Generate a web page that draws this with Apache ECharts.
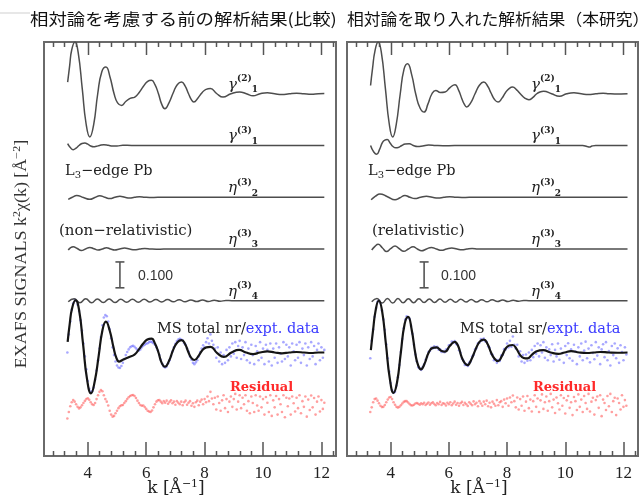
<!DOCTYPE html>
<html><head><meta charset="utf-8">
<script src="https://cdn.jsdelivr.net/npm/echarts@6/dist/echarts.min.js"></script>
<style>html,body{margin:0;padding:0;background:#fff;}#c{width:644px;height:501px;}</style>
</head><body><div id="c"></div>
<script>
// ---------------- DATA ----------------
const panelTitles = ['相対論を考慮する前の解析結果(比較)', '相対論を取り入れた解析結果（本研究）'];
const majorTicks = [4, 6, 8, 10, 12];
const minorTicks = [2.8,3.2,3.6,4.4,4.8,5.2,5.6,6.4,6.8,7.2,7.6,8.4,8.8,9.2,9.6,10.4,10.8,11.2,11.6,12.4];
const xRange = [2.5, 12.5];
const yRange = [0, 1.6];

// smooth theory curves, [k, signal]
const nrGamma21 = [[3.31,0.045],[3.38,0.11],[3.45,0.17],[3.56,0.2],[3.67,0.16],[3.81,0.02],[3.94,-0.115],[4.07,-0.167],[4.2,-0.12],[4.34,0.0],[4.48,0.085],[4.62,0.103],[4.76,0.065],[4.9,0.0],[5.02,-0.035],[5.16,-0.045],[5.3,-0.03],[5.45,-0.018],[5.61,-0.013],[5.76,0.005],[5.9,0.028],[6.04,0.047],[6.18,0.052],[6.3,0.035],[6.42,0.0],[6.53,-0.04],[6.64,-0.058],[6.78,-0.035],[6.93,0.005],[7.07,0.036],[7.21,0.045],[7.33,0.03],[7.45,0.0],[7.54,-0.022],[7.63,-0.032],[7.78,-0.015],[7.92,0.005],[8.05,0.017],[8.2,0.02],[8.42,0.0],[8.63,-0.013],[8.9,0.0],[9.2,0.007],[9.43,0.0],[9.66,-0.008],[9.9,0.0],[10.15,0.004],[10.4,0.0],[10.65,-0.003],[10.9,0.0],[11.15,0.002],[11.4,0.0],[11.65,-0.002],[11.9,0.0],[12.1,0.001]];
const nrGamma31 = [[3.31,0.007],[3.4,-0.008],[3.5,-0.016],[3.6,-0.01],[3.7,0.0],[3.8,0.008],[3.9,0.01],[4.0,0.005],[4.1,-0.002],[4.2,-0.005],[4.3,-0.003],[4.4,0.0],[4.55,0.003],[4.7,0.001],[4.85,-0.002],[5.0,-0.002],[5.2,0.001],[5.5,0.0],[12.1,0.0]];
const nrEta32 = [[3.33,-0.008],[3.47,0.0],[3.62,0.007],[3.85,-0.001],[4.07,-0.008],[4.24,-0.001],[4.41,0.006],[4.58,0.0],[4.76,-0.005],[4.93,0.0],[5.1,0.004],[5.27,0.0],[5.43,-0.003],[5.6,0.0],[5.77,0.002],[5.95,0.0],[6.12,-0.001],[6.4,0.0],[12.1,0.0]];
const nrEta33 = [[3.33,-0.004],[3.5,0.009],[3.64,0.002],[3.78,-0.006],[3.92,0.0],[4.07,0.006],[4.21,0.001],[4.35,-0.004],[4.5,0.0],[4.64,0.005],[4.78,0.0],[4.92,-0.004],[5.09,0.0],[5.26,0.004],[5.43,0.0],[5.6,-0.003],[5.78,0.0],[5.95,0.002],[6.15,0.0],[6.35,-0.001],[6.6,0.0],[12.1,0.0]];
const nrEta34 = [[3.33,-0.004],[3.53,0.008],[3.73,-0.008],[3.93,0.008],[4.13,-0.008],[4.33,0.007],[4.53,-0.007],[4.73,0.007],[4.93,-0.007],[5.13,0.006],[5.33,-0.006],[5.53,0.006],[5.73,-0.006],[5.93,0.006],[6.13,-0.005],[6.33,0.005],[6.53,-0.005],[6.73,0.005],[6.93,-0.004],[7.13,0.004],[7.33,-0.004],[7.53,0.003],[7.73,-0.003],[7.93,0.003],[8.13,-0.003],[8.33,0.002],[8.53,-0.002],[8.73,0.001],[8.93,0.0],[12.1,0.0]];
const nrTotal = [[3.31,0.041],[3.38,0.11],[3.46,0.17],[3.58,0.202],[3.7,0.165],[3.84,0.03],[3.97,-0.1],[4.11,-0.158],[4.24,-0.11],[4.37,-0.015],[4.5,0.085],[4.62,0.119],[4.75,0.085],[4.88,0.02],[4.97,-0.018],[5.07,-0.035],[5.2,-0.028],[5.4,-0.018],[5.6,-0.008],[5.75,0.012],[5.9,0.035],[6.04,0.05],[6.18,0.054],[6.3,0.035],[6.42,0.0],[6.53,-0.04],[6.64,-0.055],[6.78,-0.033],[6.93,0.012],[7.07,0.04],[7.21,0.048],[7.33,0.033],[7.45,0.0],[7.55,-0.022],[7.65,-0.029],[7.8,-0.012],[7.93,0.01],[8.06,0.02],[8.2,0.022],[8.43,-0.002],[8.66,-0.017],[8.92,0.0],[9.18,0.01],[9.42,0.0],[9.66,-0.006],[9.9,0.0],[10.15,0.004],[10.4,0.0],[10.65,-0.003],[10.9,0.0],[11.15,0.002],[11.4,0.0],[11.65,-0.002],[11.9,0.0],[12.1,0.0]];

const srGamma21 = [[3.31,0.032],[3.38,0.1],[3.46,0.165],[3.57,0.2],[3.68,0.16],[3.82,0.02],[3.95,-0.115],[4.07,-0.167],[4.19,-0.12],[4.33,0.0],[4.46,0.095],[4.58,0.116],[4.72,0.075],[4.87,-0.005],[5.01,-0.055],[5.15,-0.071],[5.28,-0.04],[5.42,0.0],[5.55,0.013],[5.71,0.005],[5.87,0.007],[6.04,0.024],[6.21,0.035],[6.33,0.015],[6.45,-0.02],[6.53,-0.04],[6.61,-0.051],[6.75,-0.035],[6.9,0.0],[7.05,0.033],[7.2,0.045],[7.33,0.03],[7.45,0.003],[7.57,-0.022],[7.69,-0.032],[7.82,-0.018],[7.95,0.005],[8.07,0.02],[8.19,0.026],[8.33,0.015],[8.47,-0.002],[8.61,-0.017],[8.75,-0.023],[8.88,-0.015],[9.0,-0.002],[9.13,0.007],[9.26,0.01],[9.53,0.0],[9.8,-0.01],[10.05,0.0],[10.3,0.004],[10.55,0.0],[10.8,-0.003],[11.05,0.0],[11.3,0.002],[11.5,0.0],[11.7,-0.001],[12.14,0.0]];
const srGamma31 = [[3.31,0.0],[3.42,-0.025],[3.52,-0.034],[3.62,-0.015],[3.72,0.012],[3.8,0.021],[3.88,0.023],[3.98,0.01],[4.08,-0.004],[4.18,-0.009],[4.26,-0.008],[4.38,0.0],[4.5,0.006],[4.64,0.007],[4.78,0.0],[4.92,-0.004],[5.1,-0.002],[5.3,0.002],[5.55,0.0],[5.8,-0.001],[6.2,0.0],[10.6,0.0],[10.75,-0.004],[10.83,-0.006],[10.92,-0.002],[11.05,0.0],[12.14,0.0]];
const srEta32 = [[3.33,-0.01],[3.48,0.004],[3.63,0.013],[3.89,0.002],[4.15,-0.01],[4.32,-0.002],[4.49,0.007],[4.66,0.0],[4.83,-0.005],[5.03,0.0],[5.23,0.004],[5.43,0.0],[5.63,-0.003],[5.83,0.0],[6.03,0.002],[6.25,0.0],[6.45,-0.001],[6.7,0.0],[12.14,0.0]];
const srEta33 = [[3.35,-0.004],[3.46,0.01],[3.57,0.018],[3.72,0.004],[3.86,-0.01],[4.0,0.001],[4.15,0.012],[4.3,0.001],[4.45,-0.009],[4.61,0.0],[4.77,0.009],[4.92,0.0],[5.06,-0.007],[5.23,0.0],[5.4,0.006],[5.57,0.0],[5.75,-0.005],[5.92,0.0],[6.1,0.004],[6.28,0.0],[6.45,-0.003],[6.62,0.0],[6.8,0.002],[7.0,0.0],[12.14,0.0]];
const srEta34 = [[3.35,-0.004],[3.53,0.009],[3.71,-0.009],[3.89,0.009],[4.07,-0.009],[4.25,0.009],[4.43,-0.008],[4.61,0.008],[4.79,-0.008],[4.97,0.008],[5.15,-0.007],[5.33,0.007],[5.51,-0.007],[5.69,0.007],[5.87,-0.006],[6.05,0.006],[6.23,-0.006],[6.41,0.006],[6.59,-0.005],[6.77,0.005],[6.95,-0.005],[7.13,0.004],[7.31,-0.004],[7.49,0.004],[7.67,-0.003],[7.85,0.003],[8.03,-0.003],[8.21,0.002],[8.39,-0.002],[8.57,0.001],[8.75,0.0],[12.14,0.0]];
const srTotal = [[3.32,0.009],[3.4,0.09],[3.48,0.16],[3.59,0.2],[3.7,0.165],[3.84,0.03],[3.97,-0.1],[4.1,-0.156],[4.22,-0.115],[4.35,0.0],[4.48,0.11],[4.6,0.138],[4.72,0.09],[4.85,-0.005],[4.94,-0.048],[5.04,-0.065],[5.17,-0.042],[5.3,-0.002],[5.44,0.018],[5.58,0.02],[5.72,0.008],[5.87,0.003],[6.03,0.025],[6.2,0.041],[6.32,0.025],[6.44,-0.018],[6.54,-0.04],[6.63,-0.049],[6.77,-0.028],[6.92,0.012],[7.06,0.042],[7.2,0.05],[7.33,0.033],[7.45,0.0],[7.57,-0.024],[7.69,-0.033],[7.82,-0.014],[7.95,0.015],[8.07,0.027],[8.19,0.029],[8.32,0.015],[8.45,-0.01],[8.57,-0.021],[8.7,-0.023],[8.85,-0.009],[9.0,0.004],[9.12,0.008],[9.24,0.009],[9.5,0.0],[9.76,-0.005],[9.98,0.0],[10.2,0.005],[10.48,0.0],[10.75,-0.002],[10.98,0.0],[11.2,0.002],[11.5,0.0],[11.8,-0.001],[12.14,0.0]];

// measured points (k grid shared)
const kExp = [3.3,3.35,3.4,3.45,3.5,3.55,3.6,3.65,3.7,3.75,3.8,3.85,3.9,3.95,
4,4.05,4.1,4.15,4.2,4.25,4.3,4.35,4.4,4.45,4.5,4.55,4.6,4.65,4.7,4.75,4.8,4.85,4.9,4.95,
5,5.05,5.1,5.15,5.2,5.25,5.3,5.35,5.4,5.45,5.5,5.55,5.6,5.65,5.7,5.75,5.8,5.85,5.9,5.95,
6,6.05,6.1,6.15,6.2,6.25,6.3,6.35,6.4,6.45,6.5,6.55,6.6,6.65,6.7,6.75,6.8,6.85,6.9,6.95,
7,7.05,7.1,7.15,7.2,7.25,7.3,7.35,7.4,7.45,7.5,7.55,7.6,7.65,7.7,7.75,7.8,7.85,7.9,7.95,
8,8.05,8.1,8.15,8.2,8.25,8.3,8.35,8.4,8.45,8.5,8.55,8.6,8.65,8.7,8.75,8.8,8.85,8.9,8.95,
9,9.05,9.1,9.15,9.2,9.25,9.3,9.35,9.4,9.45,9.5,9.55,9.6,9.65,9.7,9.75,9.8,9.85,9.9,9.95,
10,10.05,10.1,10.15,10.2,10.25,10.3,10.35,10.4,10.45,10.5,10.55,10.6,10.65,10.7,10.75,10.8,10.85,10.9,10.95,
11,11.05,11.1,11.15,11.2,11.25,11.3,11.35,11.4,11.45,11.5,11.55,11.6,11.65,11.7,11.75,11.8,11.85,11.9,11.95,
12,12.05,12.1];
const nrExpt = [0.0,0.07,0.12,0.165,0.19,0.205,0.2,0.185,0.16,0.125,
0.085,0.035,-0.015,-0.065,-0.11,-0.14,-0.152,-0.15,-0.135,-0.105,
-0.07,-0.03,0.015,0.06,0.105,0.135,0.145,0.14,0.12,0.09,
0.055,0.02,-0.01,-0.035,-0.05,-0.058,-0.06,-0.052,-0.04,-0.025,
-0.01,0.002,0.012,0.02,0.024,0.026,0.022,0.016,0.01,0.008,
0.012,0.02,0.026,0.03,0.034,0.036,0.04,0.042,0.04,0.036,
0.03,0.02,0.008,-0.01,-0.028,-0.044,-0.054,-0.058,-0.054,-0.042,
-0.03,-0.014,0.004,0.02,0.034,0.044,0.05,0.053,0.05,0.046,
0.036,0.03,0.015,0.004,-0.015,-0.028,-0.04,-0.045,-0.038,-0.03,
-0.015,0.002,0.015,0.028,0.02,0.04,0.055,0.035,0.07,0.045,
0.03,0.015,-0.02,0.02,-0.035,0.0,-0.045,-0.01,-0.04,0.01,
-0.03,0.02,-0.015,0.035,-0.005,0.04,-0.02,0.025,0.045,-0.025,
0.02,-0.01,0.04,-0.03,0.015,-0.04,0.03,-0.01,-0.045,0.025,
0.005,-0.03,0.04,-0.02,0.015,-0.045,0.03,0.01,-0.035,0.035,
-0.05,0.015,-0.02,0.035,-0.04,0.02,-0.005,-0.035,0.04,-0.025,
0.03,-0.015,0.02,-0.05,0.035,0.005,-0.03,0.03,-0.02,0.04,
-0.04,0.015,-0.01,0.035,-0.05,0.02,-0.025,0.04,-0.015,0.025,
-0.045,0.01,0.035,-0.03,0.02,-0.02,0.01];
const nrResidual = [-0.055,-0.03,-0.008,0.008,0.016,0.01,0.0,-0.01,-0.016,-0.012,
-0.004,0.005,0.013,0.02,0.023,0.017,0.008,0.0,-0.003,0.005,
0.02,0.035,0.048,0.055,0.05,0.035,0.02,0.01,-0.005,-0.025,
-0.04,-0.048,-0.045,-0.035,-0.025,-0.015,-0.008,-0.004,-0.003,0.005,
0.012,0.02,0.027,0.032,0.035,0.036,0.032,0.024,0.014,0.005,
-0.003,-0.006,-0.005,-0.011,-0.018,-0.025,-0.028,-0.03,-0.024,-0.012,
0.0,0.01,0.015,0.016,0.01,0.004,0.012,0.006,0.014,0.002,
0.009,0.015,0.004,0.01,-0.002,0.012,0.006,0.0,0.01,-0.004,
0.008,0.014,-0.002,0.006,0.012,-0.006,0.004,-0.01,0.008,0.014,
-0.004,0.01,0.018,0.0,0.02,0.008,0.03,0.012,0.048,0.022,
0.0,0.025,-0.02,0.03,0.005,-0.025,0.015,0.035,-0.015,0.02,
-0.03,0.01,0.03,-0.01,0.02,0.04,-0.02,0.01,0.035,-0.015,
0.025,0.0,0.035,-0.025,0.012,-0.035,0.03,0.005,-0.03,0.035,
-0.005,-0.025,0.03,-0.012,0.02,-0.04,0.028,0.006,-0.03,0.035,
-0.045,0.015,-0.012,0.032,-0.04,0.02,0.0,-0.03,0.035,-0.05,
0.025,-0.008,0.022,-0.04,0.03,0.004,-0.028,0.025,-0.015,0.035,
-0.035,0.012,-0.01,0.03,-0.048,0.018,-0.022,0.034,-0.012,0.024,
-0.04,0.01,0.03,-0.028,0.016,-0.018,0.006];
const srExpt = [-0.022,0.045,0.09,0.138,0.172,0.196,0.202,0.19,0.162,0.128,
0.088,0.032,-0.022,-0.074,-0.118,-0.146,-0.156,-0.152,-0.128,-0.096,
-0.048,0.002,0.052,0.094,0.127,0.14,0.136,0.13,0.102,0.072,
0.03,-0.008,-0.034,-0.057,-0.062,-0.067,-0.056,-0.046,-0.028,-0.017,
0.002,0.006,0.018,0.016,0.024,0.018,0.022,0.011,0.012,0.002,
0.006,0.001,0.011,0.012,0.028,0.029,0.042,0.038,0.044,0.033,
0.029,0.009,-0.001,-0.024,-0.031,-0.048,-0.046,-0.052,-0.039,-0.035,
-0.016,-0.01,0.012,0.017,0.036,0.038,0.052,0.047,0.054,0.043,
0.041,0.023,0.018,-0.005,-0.009,-0.03,-0.027,-0.04,-0.029,-0.033,
-0.012,-0.01,0.013,0.012,0.035,0.02,0.045,0.022,0.062,0.03,
0.015,0.03,-0.015,0.005,-0.035,-0.01,-0.04,-0.008,-0.032,0.0,
-0.03,0.01,-0.018,0.025,-0.005,0.035,-0.015,0.028,0.0,0.04,
-0.02,0.02,-0.03,0.012,-0.01,0.032,-0.035,0.01,-0.015,0.035,
-0.028,0.015,-0.002,-0.04,0.025,-0.01,0.036,-0.022,0.012,-0.032,
0.03,0.004,-0.045,0.02,-0.015,0.035,-0.03,0.008,0.042,-0.022,
0.015,-0.038,0.028,-0.002,-0.026,0.04,-0.012,0.02,-0.045,0.012,
0.032,-0.018,0.04,-0.03,0.006,-0.05,0.025,-0.01,0.035,-0.022,
0.016,-0.04,0.028,0.002,-0.03,0.02,-0.008];
const srResidual = [-0.03,-0.012,0.008,0.02,0.022,0.014,0.004,-0.006,-0.011,-0.01,
-0.003,0.008,0.018,0.026,0.028,0.02,0.008,-0.002,-0.01,-0.013,
-0.01,-0.004,0.003,0.009,0.012,0.012,0.007,0.001,-0.004,-0.005,
-0.002,0.003,0.005,0.002,-0.002,0.004,0.0,0.006,-0.003,0.002,
0.007,-0.002,0.004,0.008,0.001,-0.004,0.005,0.0,0.009,-0.003,
0.004,0.002,-0.005,0.006,0.0,0.008,-0.004,0.003,0.01,-0.002,
0.005,-0.006,0.004,0.009,-0.003,0.006,0.0,-0.007,0.008,0.002,
-0.004,0.011,0.0,0.006,-0.008,0.012,0.003,-0.006,0.01,0.0,
0.014,-0.008,0.006,-0.012,0.01,0.002,-0.006,0.016,-0.004,0.008,
0.012,-0.01,0.018,0.004,0.022,-0.006,0.026,0.008,0.034,0.012,
-0.012,0.026,-0.02,0.02,-0.006,0.03,-0.025,0.01,0.032,-0.015,
0.018,-0.028,0.012,0.035,-0.01,0.022,-0.03,0.015,0.038,-0.018,
0.008,0.03,-0.025,0.012,0.04,-0.012,0.018,-0.034,0.026,0.004,
-0.02,0.035,-0.006,0.024,-0.036,0.015,0.032,-0.014,0.008,-0.042,
0.028,0.012,-0.022,0.038,-0.01,0.018,-0.03,0.032,0.005,-0.018,
0.04,-0.028,0.01,0.025,-0.04,0.016,0.03,-0.014,0.035,-0.046,
0.018,0.005,-0.022,0.032,-0.008,0.04,-0.03,0.012,0.025,-0.042,
0.022,0.005,-0.02,0.035,-0.01,0.016,-0.006];

// scale bar (0.100 in signal units) position along k for each panel
const scaleBarK = [5.1, 5.15];
const scaleBarSpan = [0.65, 0.75];

// ---------------- LAYOUT / STYLE ----------------
const offsets = [1.4, 1.2, 1.0, 0.8, 0.6, 0.4, 0.2]; // vertical stacking of traces
const frames = [{left:44, top:42, width:292, height:414},{left:347, top:42, width:291, height:414}];
const panels = [
  {curves:[nrGamma21,nrGamma31,nrEta32,nrEta33,nrEta34], total:nrTotal, expt:nrExpt, res:nrResidual, kind:'nr', note:'(non\u2212relativistic)'},
  {curves:[srGamma21,srGamma31,srEta32,srEta33,srEta34], total:srTotal, expt:srExpt, res:srResidual, kind:'sr', note:'(relativistic)'}
];
const SERIF = "'DejaVu Serif', serif";
const TSERIF = "'Liberation Serif', 'Times New Roman', serif";
const TICK = {color:'#555', width:1.5, major:14, majorTop:13, minor:5};

const shift = (pairs, o) => pairs.map(p => [p[0], p[1] + o]);
const zipShift = (ks, vs, o) => ks.slice(0, vs.length).map((k, i) => [k, vs[i] + o]);

const xAxes = [], yAxes = [], series = [], gridOpts = [], graphic = [];
frames.forEach((g, gi) => {
  gridOpts.push({left:g.left, top:g.top, width:g.width, height:g.height, show:true,
    borderColor:'#6a6a6a', borderWidth:2, containLabel:false});
  yAxes.push({type:'value', gridIndex:gi, min:yRange[0], max:yRange[1], show:false});
  xAxes.push({type:'value', gridIndex:gi, min:xRange[0], max:xRange[1], position:'bottom',
    splitLine:{show:false}, axisLine:{show:false, onZero:false},
    axisTick:{show:true, inside:true, length:TICK.major, customValues:majorTicks, lineStyle:{color:TICK.color, width:TICK.width}},
    axisLabel:{show:true, customValues:majorTicks, margin:9, color:'#222', fontFamily:TSERIF, fontSize:17}});
});

panels.forEach((p, gi) => {
  p.curves.forEach((c, ci) => {
    series.push({type:'line', xAxisIndex:gi, yAxisIndex:gi, data:shift(c, offsets[ci]), smooth:0.5,
      showSymbol:false, clip:true, silent:true, lineStyle:{color:'#4d4d4d', width:1.5}, z:3});
  });
  series.push({type:'scatter', xAxisIndex:gi, yAxisIndex:gi, data:zipShift(kExp, p.expt, offsets[5]),
    symbolSize:2.6, itemStyle:{color:'rgba(100,100,255,0.7)'}, silent:true, z:2});
  series.push({type:'line', xAxisIndex:gi, yAxisIndex:gi, data:shift(p.total, offsets[5]), smooth:0.5,
    showSymbol:false, clip:true, silent:true, lineStyle:{color:'#151515', width:2.2}, z:4});
  series.push({type:'scatter', xAxisIndex:gi, yAxisIndex:gi, data:zipShift(kExp, p.res, offsets[6]),
    symbolSize:2.6, itemStyle:{color:'rgba(255,95,95,0.75)'}, silent:true, z:2});
  series.push({type:'line', xAxisIndex:gi, yAxisIndex:gi,
    data:[[scaleBarK[gi], scaleBarSpan[0]],[scaleBarK[gi], scaleBarSpan[1]]],
    showSymbol:true, symbol:'rect', symbolSize:[9,1.6], itemStyle:{color:'#555'},
    lineStyle:{color:'#555', width:1.6}, silent:true, z:3});
});

// ---------------- FRAME TICKS (top edge + minor ticks), same linear k mapping as the x axis ----------------
const kToPix = (g, v) => g.left + (v - xRange[0]) / (xRange[1] - xRange[0]) * g.width;
frames.forEach(g => {
  const place = (vals, lenB, lenT) => vals.forEach(v => {
    const x = Math.round(kToPix(g, v)) + 0.5;
    if (lenB) graphic.push({type:'line', shape:{x1:x, y1:g.top + g.height, x2:x, y2:g.top + g.height - lenB},
      style:{stroke:TICK.color, lineWidth:TICK.width}});
    if (lenT) graphic.push({type:'line', shape:{x1:x, y1:g.top, x2:x, y2:g.top + lenT},
      style:{stroke:TICK.color, lineWidth:TICK.width}});
  });
  place(majorTicks, 0, TICK.majorTop);
  place(minorTicks, TICK.minor, TICK.minor);
});

// ---------------- TEXT ----------------
const basePix = (g, v) => g.top + (yRange[1] - v) / (yRange[1] - yRange[0]) * g.height;
const greek = [['\u03B3','(2)','1'],['\u03B3','(3)','1'],['\u03B7','(3)','2'],['\u03B7','(3)','3'],['\u03B7','(3)','4']];

graphic.push({type:'line', shape:{x1:0, y1:13, x2:30, y2:13}, style:{stroke:'#cfcfcf', lineWidth:1}});
panelTitles.forEach((t, i) => {
  graphic.push({type:'text', x:[30, 347][i], y:19, scaleX:[1.15, 1.05][i],
    style:{x:0, y:0, text:t, fill:'#111', font:"16px 'Noto Sans CJK JP'", textAlign:'left', textVerticalAlign:'middle'}});
});
graphic.push({type:'text', x:22, y:254, rotation:Math.PI/2, scaleY:0.88,
  style:{x:0, y:0, text:'{a|EXAFS SIGNALS k}{s|2}{a|\u03C7(k) [\u00C5}{s|\u22122}{a|]}', textAlign:'center', textVerticalAlign:'middle',
    rich:{a:{fontFamily:TSERIF, fontSize:18, fill:'#333'}, s:{fontFamily:TSERIF, fontSize:12, fill:'#333', padding:[0,0,10,0]}}}});

frames.forEach((g, gi) => {
  greek.forEach((gr, j) => {
    const b = basePix(g, offsets[j]);
    graphic.push({type:'text', x:g.left + 184, y:b - 9, z:10,
      style:{x:0, y:0, text:'{g|' + gr[0] + '}{p|' + gr[1] + '}{b|' + gr[2] + '}', textAlign:'left', textVerticalAlign:'middle',
        rich:{g:{fontFamily:SERIF, fontStyle:'italic', fontSize:15, fill:'#222'},
              p:{fontFamily:SERIF, fontWeight:'bold', fontSize:9, fill:'#222', padding:[0,0,12,0]},
              b:{fontFamily:SERIF, fontWeight:'bold', fontSize:9, fill:'#222', padding:[10,0,0,0]}}}});
  });
  graphic.push({type:'text', x:g.left + 21, y:171, z:10,
    style:{x:0, y:0, text:'{a|L}{s|3}{a|\u2212edge Pb}', textAlign:'left', textVerticalAlign:'middle',
      rich:{a:{fontFamily:SERIF, fontSize:14.5, fill:'#222'}, s:{fontFamily:SERIF, fontSize:10, fill:'#222', padding:[8,0,0,0]}}}});
  graphic.push({type:'text', x:g.left + (gi ? 25 : 15), y:231, z:10,
    style:{x:0, y:0, text:panels[gi].note, fill:'#222', font:"15px 'DejaVu Serif'", textAlign:'left', textVerticalAlign:'middle'}});
  graphic.push({type:'text', x:g.left + 94, y:276, z:10,
    style:{x:0, y:0, text:'0.100', fill:'#333', font:"14px 'Liberation Sans'", textAlign:'left', textVerticalAlign:'middle'}});
  graphic.push({type:'text', x:g.left + 113, y:329, z:10,
    style:{x:0, y:0, text:'{k|MS total ' + panels[gi].kind + '/}{e|expt. data}', textAlign:'left', textVerticalAlign:'middle',
      rich:{k:{fontFamily:SERIF, fontSize:14.5, fill:'#222'}, e:{fontFamily:SERIF, fontSize:14.5, fill:'#3a3aff'}}}});
  graphic.push({type:'text', x:g.left + 186, y:388, z:10,
    style:{x:0, y:0, text:'Residual', fill:'#ff2a2a', font:"bold 13px 'DejaVu Serif'", textAlign:'left', textVerticalAlign:'middle'}});
  graphic.push({type:'text', x:g.left + 132, y:489, z:10,
    style:{x:0, y:0, text:'{a|k [\u00C5}{s|\u22121}{a|]}', textAlign:'center', textVerticalAlign:'middle',
      rich:{a:{fontFamily:SERIF, fontSize:17, fill:'#222'}, s:{fontFamily:SERIF, fontSize:11, fill:'#222', padding:[0,0,10,0]}}}});
});

const chart = echarts.init(document.getElementById('c'), null, {renderer:'canvas'});
chart.setOption({animation:false, backgroundColor:'#fff', grid:gridOpts, xAxis:xAxes, yAxis:yAxes, series:series, graphic:graphic});
</script></body></html>
